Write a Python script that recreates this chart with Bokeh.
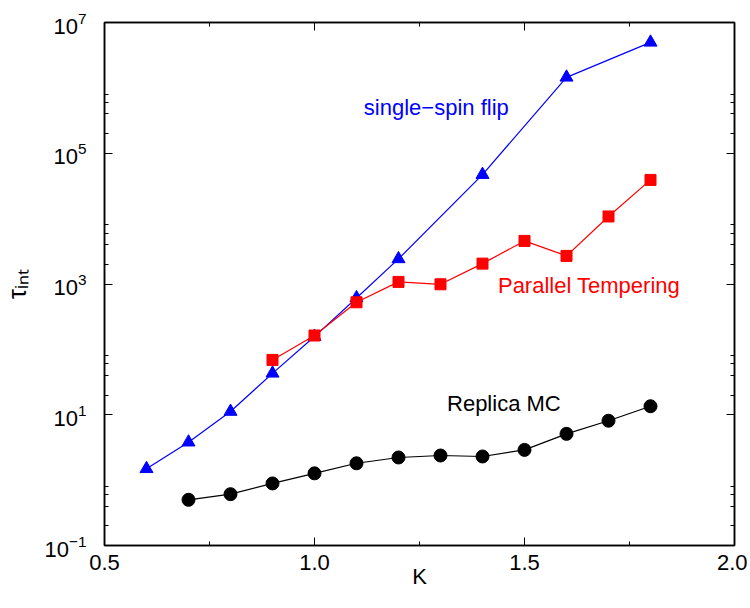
from bokeh.plotting import figure
from bokeh.models import Range1d, FixedTicker, LogAxis, LinearAxis, Label
from bokeh.embed import file_html
from bokeh.resources import INLINE

# single-spin flip (triangles)
k_ss = [0.6, 0.7, 0.8, 0.9, 1.0, 1.1, 1.2, 1.4, 1.6, 1.8]
tau_ss = [1.49, 3.8, 11.2, 43, 157, 612, 2420, 47100, 1.45e6, 4.97e6]
# parallel tempering (squares)
k_pt = [0.9, 1.0, 1.1, 1.2, 1.3, 1.4, 1.5, 1.6, 1.7, 1.8]
tau_pt = [69, 163, 525, 1077, 990, 2050, 4560, 2690, 10800, 39100]
# replica MC (circles)
k_rmc = [0.7, 0.8, 0.9, 1.0, 1.1, 1.2, 1.3, 1.4, 1.5, 1.6, 1.7, 1.8]
tau_rmc = [0.50, 0.61, 0.89, 1.27, 1.81, 2.22, 2.38, 2.30, 2.90, 5.1, 8.1, 13.5]

x_major = [0.5, 1.0, 1.5, 2.0]
x_minor = [0.75, 1.25, 1.75]
y_major = [1e-1, 1e1, 1e3, 1e5, 1e7]
y_minor = [m * d for d in [1e-1, 1e1, 1e3, 1e5] for m in (2, 4, 6, 8)]

series_labels = ["single\u2212spin flip", "Parallel Tempering", "Replica MC"]
label_x = [1.1175, 1.4368, 1.3155]
label_y = [5.0e5, 946, 14.8]
colors = ["#0000ff", "#ff0000", "#000000"]

FONT = "Liberation Sans"

p = figure(width=747, height=606, y_axis_type="log",
           x_range=Range1d(0.5, 2.0), y_range=Range1d(0.1, 1e7),
           output_backend="svg", toolbar_location=None,
           min_border_left=100, min_border_right=13,
           min_border_top=22, min_border_bottom=61)
p.grid.visible = False
p.outline_line_color = "black"
p.outline_line_width = 1.5
p.background_fill_color = "white"
p.border_fill_color = "white"

def style_axis(ax, show_labels):
    ax.axis_line_color = "black"
    ax.axis_line_width = 1.5
    ax.major_tick_in = 8
    ax.major_tick_out = 0
    ax.minor_tick_in = 4
    ax.minor_tick_out = 0
    ax.major_tick_line_color = "black"
    ax.minor_tick_line_color = "black"
    ax.major_label_text_font = FONT
    ax.major_label_text_color = "black"
    if show_labels:
        ax.major_label_text_font_size = "22px"
    else:
        ax.major_label_text_font_size = "1px"
        ax.major_label_text_color = None
        ax.major_label_standoff = 0

xt = FixedTicker(ticks=x_major, minor_ticks=x_minor)
yt = FixedTicker(ticks=y_major, minor_ticks=y_minor)

p.xaxis.ticker = xt
p.yaxis.ticker = yt
style_axis(p.xaxis[0], True)
style_axis(p.yaxis[0], True)
p.xaxis.major_label_standoff = 9
p.yaxis.major_label_standoff = 18
p.xaxis.major_label_overrides = {0.5: "0.5", 1.0: "1.0", 1.5: "1.5", 2.0: "2.0"}

p.xaxis.axis_label = "K"
p.xaxis.axis_label_text_font = FONT
p.xaxis.axis_label_text_font_size = "22px"
p.xaxis.axis_label_text_font_style = "normal"
p.xaxis.axis_label_text_color = "black"
p.xaxis.axis_label_standoff = -9

p.yaxis.axis_label = "\u03c4\u1d62\u2099\u209c"
p.yaxis.axis_label_text_font = FONT
p.yaxis.axis_label_text_font_size = "25px"
p.yaxis.axis_label_text_font_style = "normal"
p.yaxis.axis_label_text_color = "black"
p.yaxis.axis_label_standoff = 10

ra = LogAxis(ticker=yt)
style_axis(ra, False)
p.add_layout(ra, "right")
ta = LinearAxis(ticker=xt)
style_axis(ta, False)
p.add_layout(ta, "above")

# series
p.line(k_ss, tau_ss, line_color=colors[0], line_width=1.2)
p.scatter(k_ss, tau_ss, marker="triangle", size=13, fill_color=colors[0], line_color=colors[0])
p.line(k_pt, tau_pt, line_color=colors[1], line_width=1.2)
p.scatter(k_pt, tau_pt, marker="square", size=11, fill_color=colors[1], line_color=colors[1])
p.line(k_rmc, tau_rmc, line_color=colors[2], line_width=1.2)
p.scatter(k_rmc, tau_rmc, marker="circle", size=13, fill_color=colors[2], line_color=colors[2])

for t, lx, ly, c in zip(series_labels, label_x, label_y, colors):
    p.add_layout(Label(x=lx, y=ly, text=t, text_color=c, text_font=FONT,
                       text_font_size="22px", text_align="left", text_baseline="alphabetic"))

open("out.html", "w").write(file_html(p, INLINE))
